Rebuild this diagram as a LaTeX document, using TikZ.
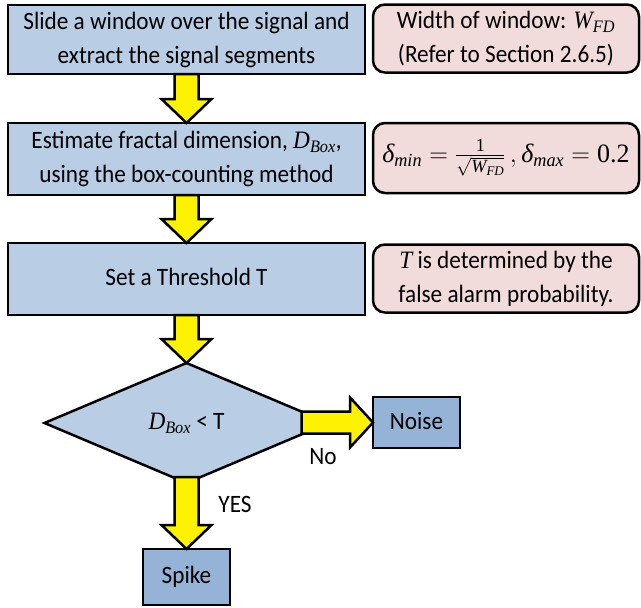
\documentclass[tikz,border=0pt]{standalone}
\usepackage{amsmath}
\usepackage{fontspec}
\setmainfont{Carlito}
\newfontfamily\mfont{Liberation Serif}
\usepackage{graphicx}
\usetikzlibrary{shapes.geometric,calc}
\definecolor{boxblue}{HTML}{B9CDE5}
\definecolor{darkblue}{HTML}{95B3D7}
\definecolor{pinkbox}{HTML}{F2DCDB}
\newcommand\sq[1]{\scalebox{0.93}[1]{\begin{tabular}{@{}c@{}}#1\end{tabular}}}
\newcommand\mv[1]{\text{\mfont\itshape #1}}
\newcommand\mr[1]{\text{\mfont #1}}
\newcommand\blockdown[2]{\draw[blockarrow] let \p1=(#1), \p2=(#2) in
  (\x1-12pt,\y1) -- (\x1+12pt,\y1) -- (\x1+12pt,\y2+24pt) -- (\x1+25pt,\y2+24pt)
  -- (\x1,\y2) -- (\x1-25pt,\y2+24pt) -- (\x1-12pt,\y2+24pt) -- cycle;}
\newcommand\blockright[2]{\draw[blockarrow] let \p1=(#1), \p2=(#2) in
  (\x1,\y2+11pt) -- (\x2-23pt,\y2+11pt) -- (\x2-23pt,\y2+25pt) -- (\x2,\y2)
  -- (\x2-23pt,\y2-25pt) -- (\x2-23pt,\y2-11pt) -- (\x1,\y2-11pt) -- cycle;}
\tikzset{
  base/.style={draw, line width=2.5pt, inner sep=0pt, outer sep=0pt,
    font=\fontsize{25}{34}\selectfont},
  box/.style={base, fill=boxblue, minimum width=357pt, minimum height=72pt},
  note/.style={base, fill=pinkbox, rounded corners=12pt, minimum width=266pt},
  endbox/.style={base, fill=darkblue, minimum width=87pt},
  dia/.style={base, diamond, fill=boxblue, minimum width=284pt, minimum height=120pt},
  blockarrow/.style={draw, line width=2.5pt, fill=yellow},
  lab/.style={font=\fontsize{25}{34}\selectfont, inner sep=0pt}
}
\begin{document}
\begin{tikzpicture}[x=1pt, y=-1pt]
\useasboundingbox (0,0) rectangle (641,608);
\node[box, minimum height=69pt] (b1) at (186.5,39.5) {\sq{Slide a window over the signal and\\extract the signal segments}};
\node[box] (b2) at (186.5,159) {\sq{Estimate fractal dimension, $\mv{D}_{\mv{Box}}$,\\using the box-counting method}};
\node[box] (b3) at (186.5,279) {\sq{Set a Threshold T}};
\node[note, minimum height=67pt] (n1) at (506,38.5) {\sq{Width of window: $\mv{W}_{\mv{FD}}$\\(Refer to Section 2.6.5)}};
\node[note, minimum height=70pt] (n2) at (506,158) {\scalebox{1.04}[1.06]{$\mv{δ}_{\mv{min}}=\frac{\mr{1}}{\sqrt{\mv{W}_{\mv{FD}}}}\,,\mv{δ}_{\mv{max}}=\mr{0.2}$}};
\node[note, minimum height=67pt] (n3) at (506,278.5) {\sq{$\mv{T}$ is determined by the\\false alarm probability.}};
\node[dia] (d) at (186.5,423) {\sq{$\mv{D}_{\mv{Box}}$ < T}};
\node[endbox, minimum height=51pt] (noise) at (416.5,422.5) {\sq{Noise}};
\node[endbox, minimum height=56pt] (spike) at (186.5,577) {\sq{Spike}};
\node[lab] (nolab) at (323,458) {\sq{No}};
\node[lab] (yeslab) at (235,506) {\sq{YES}};
\blockdown{b1.south}{b2.north}
\blockdown{b2.south}{b3.north}
\blockdown{b3.south}{d.north}
\coordinate (ystart) at ($(d.south)+(0,-6)$);
\coordinate (nstart) at ($(d.east)+(-27,0)$);
\blockdown{ystart}{spike.north}
\blockright{nstart}{noise.west}
\end{tikzpicture}
\end{document}
